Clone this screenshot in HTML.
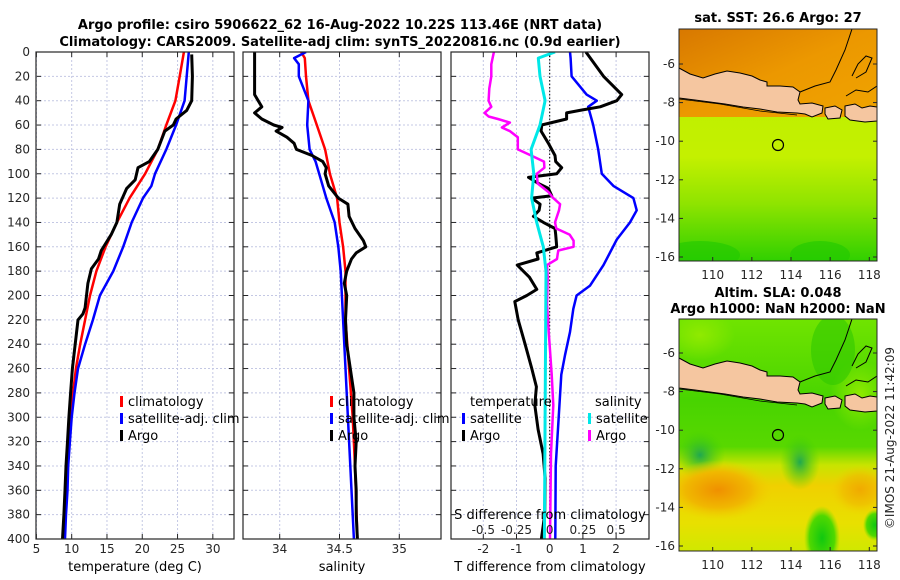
<!DOCTYPE html>
<html><head><meta charset="utf-8">
<style>
html,body{margin:0;padding:0;background:#fff;}
svg{display:block;font-family:"DejaVu Sans","Liberation Sans",sans-serif;}
.tk{font-size:12px;fill:#262626;}
.ttl{font-size:13px;font-weight:bold;fill:#000;}
.lg{font-size:13px;fill:#000;}
</style></head>
<body>
<svg id="fig" width="900" height="580" viewBox="0 0 900 580">
<defs>
<clipPath id="c1"><rect x="36" y="52" width="198" height="487"/></clipPath>
<clipPath id="c2"><rect x="243" y="52" width="198" height="487"/></clipPath>
<clipPath id="c3"><rect x="451" y="52" width="198" height="487"/></clipPath>
<clipPath id="cm1"><rect x="679" y="29" width="198" height="232"/></clipPath>
<clipPath id="cm2"><rect x="679" y="319" width="198" height="232"/></clipPath>
<linearGradient id="sstS" x1="0" y1="0" x2="0" y2="1">
<stop offset="0" stop-color="#b8ee00"/><stop offset="0.55" stop-color="#c4f000"/><stop offset="0.75" stop-color="#90e400"/><stop offset="1" stop-color="#30d000"/></linearGradient>
<linearGradient id="sstN" x1="0" y1="0" x2="1" y2="1">
<stop offset="0" stop-color="#d87800"/><stop offset="0.5" stop-color="#ec9800"/><stop offset="1" stop-color="#f0a400"/></linearGradient>
<radialGradient id="dg1"><stop offset="0" stop-color="#20a850"/><stop offset="1" stop-color="#40d000" stop-opacity="0"/></radialGradient>
<radialGradient id="og1"><stop offset="0" stop-color="#f09000"/><stop offset="0.6" stop-color="#f0b800"/><stop offset="1" stop-color="#f0d000" stop-opacity="0"/></radialGradient>
<radialGradient id="gg1"><stop offset="0" stop-color="#10c810"/><stop offset="0.7" stop-color="#50d800"/><stop offset="1" stop-color="#80e000" stop-opacity="0"/></radialGradient>
<radialGradient id="lg1"><stop offset="0" stop-color="#90ea00"/><stop offset="1" stop-color="#90ea00" stop-opacity="0"/></radialGradient>
<linearGradient id="slaB" x1="0" y1="0" x2="0" y2="1">
<stop offset="0" stop-color="#70e400"/><stop offset="0.35" stop-color="#48d400"/><stop offset="0.55" stop-color="#58d800"/><stop offset="0.63" stop-color="#c8e400"/><stop offset="0.72" stop-color="#f0d000"/><stop offset="0.88" stop-color="#e8e000"/><stop offset="1" stop-color="#d0e800"/></linearGradient>
</defs>

<text class="ttl" x="340" y="29" text-anchor="middle">Argo profile: csiro 5906622_62 16-Aug-2022 10.22S 113.46E (NRT data)</text>
<text class="ttl" x="340" y="46" text-anchor="middle">Climatology: CARS2009. Satellite-adj clim: synTS_20220816.nc (0.9d earlier)</text>

<g id="p1"></g>
<g id="p2"></g>
<g id="p3"></g>

<g>
<text class="ttl" x="778" y="22" text-anchor="middle">sat. SST: 26.6 Argo: 27</text>
<g clip-path="url(#cm1)">
<rect x="679" y="29" width="198" height="232" fill="url(#sstS)"/>
<rect x="679" y="29" width="198" height="88" fill="url(#sstN)"/>
<ellipse cx="700" cy="255" rx="40" ry="14" fill="#20c800" opacity="0.6"/>
<ellipse cx="820" cy="255" rx="30" ry="14" fill="#20c800" opacity="0.6"/>
<g id="land1" transform="translate(0,0)"></g>
</g>
<rect x="679" y="29" width="198" height="232" fill="none" stroke="#262626" stroke-width="1"/>
<circle cx="778" cy="145" r="5.5" fill="none" stroke="#000" stroke-width="1.2"/>
</g>
<g>
<text class="ttl" x="778" y="297" text-anchor="middle">Altim. SLA: 0.048</text>
<text class="ttl" x="778" y="313" text-anchor="middle">Argo h1000: NaN h2000: NaN</text>
<g clip-path="url(#cm2)">
<rect x="679" y="319" width="198" height="232" fill="url(#slaB)"/>
<ellipse cx="700" cy="335" rx="35" ry="25" fill="url(#lg1)"/>
<ellipse cx="860" cy="395" rx="30" ry="35" fill="url(#lg1)"/>
<ellipse cx="833" cy="350" rx="22" ry="35" fill="#30c800" opacity="0.6"/>
<ellipse cx="700" cy="455" rx="25" ry="25" fill="url(#dg1)"/>
<ellipse cx="800" cy="462" rx="20" ry="28" fill="url(#dg1)"/>
<ellipse cx="718" cy="490" rx="55" ry="30" fill="url(#og1)"/>
<ellipse cx="860" cy="490" rx="30" ry="25" fill="url(#og1)" opacity="0.6"/>
<ellipse cx="822" cy="538" rx="18" ry="32" fill="url(#gg1)"/>
<ellipse cx="875" cy="525" rx="12" ry="16" fill="url(#gg1)"/>
<g id="land2" transform="translate(0,290)"></g>
</g>
<rect x="679" y="319" width="198" height="232" fill="none" stroke="#262626" stroke-width="1"/>
<circle cx="778" cy="435" r="5.5" fill="none" stroke="#000" stroke-width="1.2"/>
</g>
<g id="mapaxes"></g>
<text class="tk" font-size="13" transform="translate(894,438) rotate(-90)" text-anchor="middle">©IMOS 21-Aug-2022 11:42:09</text>
</svg>
<script>
// ---- data ----
const depthTicks = [0,20,40,60,80,100,120,140,160,180,200,220,240,260,280,300,320,340,360,380,400];
const tempTicks = [5,10,15,20,25,30];
const salTicks = [34,34.5,35];
const salTickLabels = ["34","34.5","35"];
const tdiffTicks = [-2,-1,0,1,2];
const sdiffTicks = [-0.5,-0.25,0,0.25,0.5];
const sdiffTickLabels = ["-0.5","-0.25","0","0.25","0.5"];

const tClimDepth = [0,20,40,60,80,100,120,140,160,180,200,220,240,260,280,300,320,340,360,380,400];
const tClim = [25.9,25.3,24.7,23.4,22.2,20.4,18.2,16.4,14.8,13.5,12.6,11.9,11.2,10.6,10.2,9.85,9.6,9.4,9.2,9.0,8.9];
const tSatDepth = [0,20,40,60,80,100,110,120,140,160,180,200,220,240,260,280,300,320,340,360,380,400];
const tSat = [26.6,26.3,26.0,24.8,23.4,21.8,21.3,20.1,18.5,17.3,15.9,14.0,13.0,11.9,10.9,10.4,10.0,9.75,9.5,9.4,9.2,9.05];
const tArgoDepth = [2,20,40,48,55,60,65,80,90,95,105,112,125,140,150,163,170,178,190,200,210,215,220,240,260,280,300,320,340,360,380,400];
const tArgo = [27.0,27.1,27.0,26.3,24.8,24.4,23.2,22.2,21.0,19.4,19.0,17.8,16.8,16.4,15.6,14.2,13.8,12.8,12.3,12.1,11.9,11.6,10.9,10.5,10.1,9.85,9.6,9.4,9.2,9.05,8.9,8.7];

const sClimDepth = [0,5,20,40,60,80,100,120,140,160,180,200,220,260,300,340,400];
const sClim = [34.18,34.21,34.22,34.24,34.31,34.38,34.42,34.48,34.50,34.53,34.55,34.55,34.55,34.58,34.61,34.63,34.65];
const sSatDepth = [0,5,10,20,40,60,80,90,100,120,140,160,180,200,220,260,300,340,380,400];
const sSat = [34.22,34.12,34.16,34.16,34.24,34.23,34.25,34.30,34.33,34.39,34.46,34.49,34.51,34.52,34.53,34.55,34.57,34.59,34.61,34.62];
const sArgoDepth = [0,20,35,40,45,50,55,60,62,65,70,75,80,85,90,95,100,110,120,125,135,145,155,160,165,170,180,190,200,220,240,260,280,300,320,340,360,380,400];
const sArgo = [33.79,33.79,33.79,33.82,33.85,33.79,33.85,33.95,34.02,33.97,34.06,34.12,34.14,34.27,34.36,34.39,34.38,34.41,34.49,34.57,34.58,34.63,34.70,34.72,34.64,34.60,34.56,34.54,34.56,34.55,34.56,34.59,34.62,34.62,34.64,34.63,34.64,34.64,34.65];

const dTArgoDepth = [0,20,35,40,45,48,50,55,60,65,75,85,90,95,100,103,108,112,118,120,125,130,135,140,145,150,160,165,170,175,185,195,200,205,220,240,260,275,290,310,330,350,380,400];
const dTArgo = [1.09,1.62,2.17,2.02,1.52,0.91,0.51,0.51,-0.24,-0.26,-0.04,0.16,0.18,0.36,0.21,-0.64,-0.34,-0.04,0.06,-0.54,-0.29,-0.32,-0.49,-0.19,0.16,0.18,0.21,-0.39,-0.35,-0.98,-0.61,-0.39,-0.69,-1.05,-0.95,-0.74,-0.54,-0.40,-0.45,-0.35,-0.2,-0.14,-0.15,-0.25];
const dTSatDepth = [0,5,20,35,40,45,60,80,100,110,120,130,140,154,175,192,200,211,230,249,265,300,340,400];
const dTSat = [0.61,0.63,0.66,1.11,1.42,1.16,1.31,1.46,1.57,1.92,2.52,2.62,2.42,2.02,1.62,1.21,0.81,0.71,0.61,0.46,0.35,0.27,0.18,0.17];
const dSSatDepth = [0,5,20,40,60,80,100,120,140,160,180,220,300,400];
const dSSat = [0.04,-0.086,-0.073,-0.035,-0.073,-0.14,-0.12,-0.136,-0.098,-0.048,-0.028,-0.03,-0.035,-0.04];
const dSArgoDepth = [0,10,20,30,40,45,50,53,55,58,62,65,70,80,85,90,95,100,108,115,120,125,130,140,145,150,155,160,163,166,170,175,185,207,226,265,290,330,400];
const dSArgo = [-0.42,-0.44,-0.44,-0.455,-0.46,-0.44,-0.49,-0.46,-0.39,-0.30,-0.36,-0.30,-0.24,-0.24,-0.14,-0.043,-0.04,-0.098,-0.09,-0.01,0.027,0.078,0.07,0.04,0.05,0.15,0.18,0.18,0.065,0.06,0.055,-0.02,-0.015,-0.02,-0.01,0.015,0.027,0.01,0.002];

const lonTicks = [110,112,114,116,118];
const latTicks = [-6,-8,-10,-12,-14,-16];

// ---- helpers ----
const NS = "http://www.w3.org/2000/svg";
const TOP = 52, BOT = 539;
const yD = d => TOP + d * (BOT - TOP) / 400;
function lin(d0,d1,r0,r1){ return v => r0 + (v - d0) * (r1 - r0) / (d1 - d0); }
function mk(parent, tag, attrs, txt){
  const e = document.createElementNS(NS, tag);
  for (const k in attrs) e.setAttribute(k, attrs[k]);
  if (txt !== undefined) e.textContent = txt;
  parent.appendChild(e); return e;
}
function frame(g, x0, x1, xs, xticks, xlabels, showY, name){
  for (const d of depthTicks){
    const y = yD(d);
    const gl = mk(g,'line',{x1:x0,x2:x1,y1:y,y2:y,stroke:'#c4c8e4','stroke-width':1,'stroke-dasharray':'2,2'});
    
    
    mk(g,'line',{x1:x0,x2:x0+5,y1:y,y2:y,stroke:'#262626'});
    mk(g,'line',{x1:x1-5,x2:x1,y1:y,y2:y,stroke:'#262626'});
    if (showY){
      const t = mk(g,'text',{x:30,y:y+4,'text-anchor':'end',class:'tk'}, String(d));
      
      
    }
  }
  xticks.forEach((v,i)=>{
    const x = xs(v);
    const gl = mk(g,'line',{x1:x,x2:x,y1:TOP,y2:BOT,stroke:'#c4c8e4','stroke-width':1,'stroke-dasharray':'2,2'});
    
    
    mk(g,'line',{x1:x,x2:x,y1:BOT-5,y2:BOT,stroke:'#262626'});
    mk(g,'line',{x1:x,x2:x,y1:TOP,y2:TOP+5,stroke:'#262626'});
    const t = mk(g,'text',{x:x,y:553,'text-anchor':'middle',class:'tk'}, xlabels[i]);
    
    
  });
}
function border(g,x0,x1){
  mk(g,'rect',{x:x0,y:TOP,width:x1-x0,height:BOT-TOP,fill:'none',stroke:'#262626','stroke-width':1.2});
}
function line(g, xs, depths, vals, color, w, clip, name){
  const pts = depths.map((d,i)=> xs(vals[i]).toFixed(1)+','+yD(d).toFixed(1)).join(' ');
  const p = mk(g,'polyline',{points:pts,fill:'none',stroke:color,'stroke-width':w,'stroke-linejoin':'round','clip-path':'url(#'+clip+')'});
  
  
}
function legendItem(g, x, y, color, label, name){
  mk(g,'rect',{x:x,y:y-10,width:3,height:11,fill:color});
  const t = mk(g,'text',{x:x+8,y:y,class:'lg'}, label);
  
  
}

// ---- panel 1 ----
const p1 = document.getElementById('p1');
const xT = lin(5,33,36.4,234);
frame(p1,36,234,xT,tempTicks,tempTicks.map(String),true,'temperature');
line(p1,xT,tClimDepth,tClim,'#ff0000',2.5,'c1','temperature-climatology-line');
line(p1,xT,tSatDepth,tSat,'#0000ff',2.5,'c1','temperature-satellite-line');
line(p1,xT,tArgoDepth,tArgo,'#000000',3,'c1','temperature-argo-line');
border(p1,36,234);
legendItem(p1,120,406,'#ff0000','climatology','legend-climatology');
legendItem(p1,120,423,'#0000ff','satellite-adj. clim','legend-satellite-adj');
legendItem(p1,120,440,'#000000','Argo','legend-argo');
let xl = mk(p1,'text',{x:135,y:571,'text-anchor':'middle',class:'lg'},'temperature (deg C)');



// ---- panel 2 ----
const p2 = document.getElementById('p2');
const xS = lin(34,35,279.7,399.3);
frame(p2,243,441,xS,salTicks,salTickLabels,false,'salinity');
line(p2,xS,sClimDepth,sClim,'#ff0000',2.5,'c2','salinity-climatology-line');
line(p2,xS,sSatDepth,sSat,'#0000ff',2.5,'c2','salinity-satellite-line');
line(p2,xS,sArgoDepth,sArgo,'#000000',3,'c2','salinity-argo-line');
border(p2,243,441);
legendItem(p2,330,406,'#ff0000','climatology','legend2-climatology');
legendItem(p2,330,423,'#0000ff','satellite-adj. clim','legend2-satellite-adj');
legendItem(p2,330,440,'#000000','Argo','legend2-argo');
xl = mk(p2,'text',{x:342,y:571,'text-anchor':'middle',class:'lg'},'salinity');



// ---- panel 3 ----
const p3 = document.getElementById('p3');
const xDT = lin(-3,3,450.1,649.3);
const xDS = v => xDT(v*4);
frame(p3,451,649,xDT,tdiffTicks,tdiffTicks.map(String),false,'tdiff');
const zl = mk(p3,'line',{x1:xDT(0),x2:xDT(0),y1:TOP,y2:BOT,stroke:'#000','stroke-width':1,'stroke-dasharray':'1.5,2'});


line(p3,xDT,dTSatDepth,dTSat,'#0000ff',2.5,'c3','tdiff-satellite-line');
line(p3,xDT,dTArgoDepth,dTArgo,'#000000',3,'c3','tdiff-argo-line');
line(p3,xDS,dSArgoDepth,dSArgo,'#ff00ff',2.5,'c3','sdiff-argo-line');
line(p3,xDS,dSSatDepth,dSSat,'#00e8e8',3,'c3','sdiff-satellite-line');
border(p3,451,649);
let t3 = mk(p3,'text',{x:470,y:406,class:'lg'},'temperature');


legendItem(p3,462,423,'#0000ff','satellite','legend-tdiff-satellite');
legendItem(p3,462,440,'#000000','Argo','legend-tdiff-argo');
t3 = mk(p3,'text',{x:595,y:406,class:'lg'},'salinity');


legendItem(p3,588,423,'#00e8e8','satellite','legend-sdiff-satellite');
legendItem(p3,588,440,'#ff00ff','Argo','legend-sdiff-argo');
t3 = mk(p3,'text',{x:550,y:519,'text-anchor':'middle',class:'lg'},'S difference from climatology');


sdiffTicks.forEach((v,i)=>{
  const t = mk(p3,'text',{x:xDS(v),y:534,'text-anchor':'middle',class:'tk'},sdiffTickLabels[i]);
  
  
});
xl = mk(p3,'text',{x:550,y:571,'text-anchor':'middle',class:'lg'},'T difference from climatology');



// ---- map land ----
const java = "679,68 690,74 703,78 715,74 727,71 740,73 752,76 760,80 767,82 767,86 780,86 793,87 800,92 798,100 800,104 812,103 823,106 822,113 812,117 805,114 797,113 777,112 760,109 743,107 725,104 710,102 695,100 679,98";
const bali = "825,108 835,106 842,110 840,118 828,119 825,114";
const sumb = "845,106 855,104 862,108 870,106 877,107 877,121 865,122 850,120 845,116";
['land1','land2'].forEach((id,k)=>{
  const g = document.getElementById(id);
  [java,bali,sumb].forEach(pts=>{
    const p = mk(g,'polygon',{points:pts,fill:'#f5c6a0',stroke:'#000','stroke-width':1});
    
    
  });
  mk(g,'polyline',{points:'800,92 815,86 830,82 836,70 845,50 852,29',fill:'none',stroke:'#000','stroke-width':1});
  mk(g,'polyline',{points:'852,76 858,64 866,56 872,58 866,72 856,78',fill:'none',stroke:'#000','stroke-width':1});
  mk(g,'polyline',{points:'846,96 856,90 868,92 877,86',fill:'none',stroke:'#000','stroke-width':1});
  mk(g,'polyline',{points:'679,99 720,104 760,111 797,115',fill:'none',stroke:'#000','stroke-width':0.8});
});

// ---- map axes ----
const ma = document.getElementById('mapaxes');
const lonX = lin(110,118,712.7,869.3);
[[29,261,275,64],[319,551,565,353]].forEach(([top,bot,ly,lat6])=>{
  lonTicks.forEach(v=>{
    const x = lonX(v);
    mk(ma,'line',{x1:x,x2:x,y1:bot-4,y2:bot,stroke:'#262626'});
    const t = mk(ma,'text',{x:x,y:ly+4,'text-anchor':'middle',class:'tk'},String(v));
    
    
  });
  latTicks.forEach(v=>{
    const y = lat6 + (-6 - v) * 19.3;
    mk(ma,'line',{x1:873,x2:877,y1:y,y2:y,stroke:'#262626'});
    mk(ma,'line',{x1:679,x2:683,y1:y,y2:y,stroke:'#262626'});
    const t = mk(ma,'text',{x:675,y:y+4,'text-anchor':'end',class:'tk'},String(v));
    
    
  });
});
</script>
</body></html>
